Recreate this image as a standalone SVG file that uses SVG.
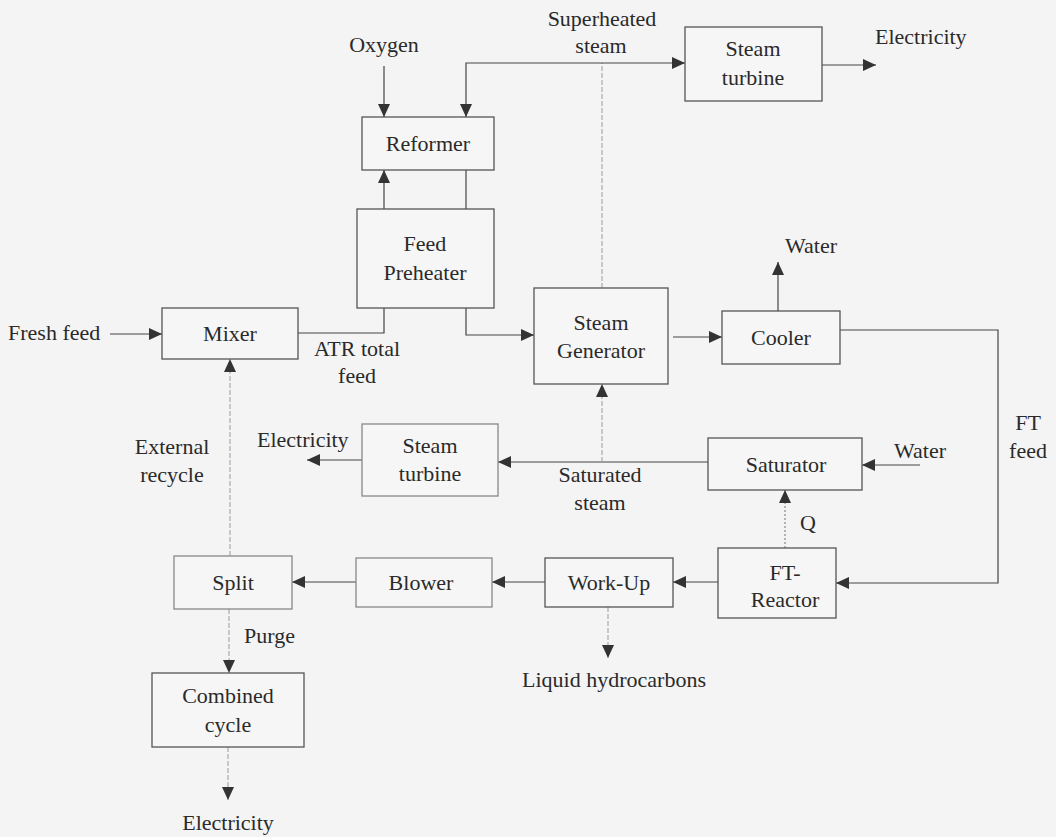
<svg xmlns="http://www.w3.org/2000/svg" width="1056" height="837" viewBox="0 0 1056 837">
<defs>
<style>
.bg{fill:#f4f4f4}
.box{fill:#f6f6f6;stroke:#555;stroke-width:1.3}
.box.light{stroke:#888}
.t{font-family:'Liberation Serif','Times New Roman','DejaVu Serif',serif;font-size:22px;fill:#2a2a2a;text-anchor:middle}
.ts{text-anchor:start}
.c{fill:none;stroke:#444;stroke-width:1.2}
.f{fill:none;stroke:#9a9a9a;stroke-width:1;stroke-dasharray:5 2}
.d{fill:none;stroke:#888;stroke-width:1.2;stroke-dasharray:2 2}
</style>
<marker id="a" markerUnits="userSpaceOnUse" markerWidth="14" markerHeight="12" refX="13" refY="6" orient="auto">
<path d="M0,0 L13,6 L0,12 Z" fill="#333"/>
</marker>
</defs>
<rect class="bg" x="0" y="0" width="1056" height="837"/>

<g id="connectors">
<path class="c" d="M384,66 V117" marker-end="url(#a)"/>
<path class="f" d="M602,288 V63"/>
<path class="c" d="M602,63 H466 V117" marker-end="url(#a)"/>
<path class="c" d="M602,63 H685" marker-end="url(#a)"/>
<path class="c" d="M822,65 H876" marker-end="url(#a)"/>
<path class="c" d="M466,170 V209"/>
<path class="c" d="M384,209 V170" marker-end="url(#a)"/>
<path class="c" d="M298,333 H384 V308"/>
<path class="c" d="M466,308 V335 H534" marker-end="url(#a)"/>
<path class="c" d="M673,337 H722" marker-end="url(#a)"/>
<path class="c" d="M778,311 V262" marker-end="url(#a)"/>
<path class="c" d="M840,330 H998 V583 H836" marker-end="url(#a)"/>
<path class="c" d="M708,462 H498" marker-end="url(#a)"/>
<path class="f" d="M602,462 V384" marker-end="url(#a)"/>
<path class="c" d="M362,460 H307" marker-end="url(#a)"/>
<path class="c" d="M920,465 H862" marker-end="url(#a)"/>
<path class="d" d="M785,548 V490" marker-end="url(#a)"/>
<path class="c" d="M718,582 H673" marker-end="url(#a)"/>
<path class="c" d="M545,582 H492" marker-end="url(#a)"/>
<path class="c" d="M356,582 H292" marker-end="url(#a)"/>
<path class="f" d="M230,556 V359" marker-end="url(#a)"/>
<path class="f" d="M229,609 V673" marker-end="url(#a)"/>
<path class="f" d="M228,747 V800" marker-end="url(#a)"/>
<path class="f" d="M608,607 V658" marker-end="url(#a)"/>
<path class="c" d="M110,334 H162" marker-end="url(#a)"/>
</g>

<g id="reformer"><rect class="box" x="362" y="117" width="132" height="53"/><text class="t" x="428" y="151">Reformer</text></g>
<g id="feed-preheater"><rect class="box" x="357" y="209" width="137" height="99"/><text class="t" x="425" y="251">Feed</text><text class="t" x="425" y="280">Preheater</text></g>
<g id="steam-turbine-top"><rect class="box" x="685" y="27" width="137" height="74"/><text class="t" x="753" y="56">Steam</text><text class="t" x="753" y="85">turbine</text></g>
<g id="mixer"><rect class="box" x="162" y="308" width="136" height="51"/><text class="t" x="230" y="341">Mixer</text></g>
<g id="steam-generator"><rect class="box" x="534" y="288" width="134" height="96"/><text class="t" x="601" y="330">Steam</text><text class="t" x="601" y="358">Generator</text></g>
<g id="cooler"><rect class="box" x="722" y="311" width="118" height="53"/><text class="t" x="781" y="345">Cooler</text></g>
<g id="steam-turbine-mid"><rect class="box light" x="362" y="424" width="136" height="72"/><text class="t" x="430" y="453">Steam</text><text class="t" x="430" y="481">turbine</text></g>
<g id="saturator"><rect class="box" x="708" y="438" width="154" height="52"/><text class="t" x="786" y="472">Saturator</text></g>
<g id="split"><rect class="box light" x="174" y="556" width="118" height="53"/><text class="t" x="233" y="590">Split</text></g>
<g id="blower"><rect class="box light" x="356" y="558" width="136" height="49"/><text class="t" x="421" y="590">Blower</text></g>
<g id="work-up"><rect class="box" x="545" y="558" width="128" height="49"/><text class="t" x="609" y="590">Work-Up</text></g>
<g id="ft-reactor"><rect class="box" x="718" y="548" width="118" height="70"/><text class="t" x="785" y="580">FT-</text><text class="t" x="785" y="607">Reactor</text></g>
<g id="combined-cycle"><rect class="box" x="152" y="673" width="152" height="74"/><text class="t" x="228" y="703">Combined</text><text class="t" x="228" y="732">cycle</text></g>

<g id="labels">
<text class="t" x="384" y="52">Oxygen</text>
<text class="t" x="602" y="26">Superheated</text>
<text class="t" x="601" y="53">steam</text>
<text class="t ts" x="875" y="44">Electricity</text>
<text class="t ts" x="785" y="253">Water</text>
<text class="t ts" x="8" y="340">Fresh feed</text>
<text class="t" x="357" y="356">ATR total</text>
<text class="t" x="357" y="383">feed</text>
<text class="t" x="172" y="454">External</text>
<text class="t" x="172" y="482">recycle</text>
<text class="t ts" x="257" y="447">Electricity</text>
<text class="t" x="600" y="482">Saturated</text>
<text class="t" x="600" y="510">steam</text>
<text class="t ts" x="894" y="458">Water</text>
<text class="t" x="1028" y="430">FT</text>
<text class="t" x="1028" y="458">feed</text>
<text class="t ts" x="800" y="530">Q</text>
<text class="t ts" x="244" y="643">Purge</text>
<text class="t" x="614" y="687">Liquid hydrocarbons</text>
<text class="t" x="228" y="830">Electricity</text>
</g>
</svg>
